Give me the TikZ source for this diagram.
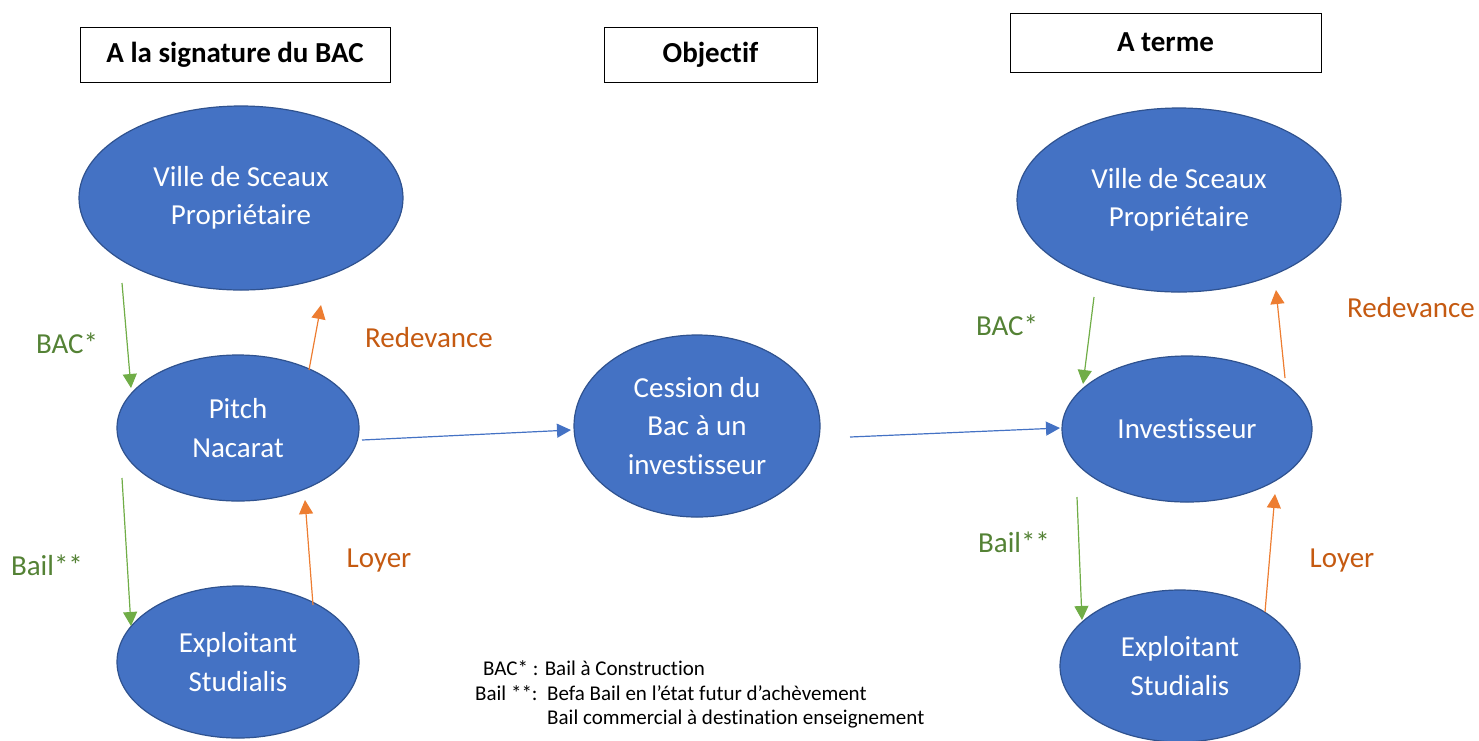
\documentclass[tikz,border=0pt]{standalone}
\usepackage{fontspec}
\setmainfont[Ligatures=NoCommon]{Carlito}
\usetikzlibrary{arrows.meta,shapes.geometric}
\definecolor{nodefill}{HTML}{4472C4}
\definecolor{nodeline}{HTML}{2F528F}
\definecolor{grn}{HTML}{70AD47}
\definecolor{grntext}{HTML}{548235}
\definecolor{org}{HTML}{ED7D31}
\definecolor{orgtext}{HTML}{C55A11}
\begin{document}
\begin{tikzpicture}[x=1pt,y=-1pt,
  ent/.style={ellipse,draw=nodeline,line width=1.2pt,fill=nodefill,text=white,
    font=\fontsize{29}{38.5}\selectfont,align=center,inner sep=0pt},
  title/.style={draw=black,line width=1pt,fill=white,font=\bfseries\fontsize{29}{32}\selectfont,inner sep=0pt},
  garrow/.style={draw=grn,line width=1.2pt,-{Triangle[length=14pt,width=14pt]}},
  oarrow/.style={draw=org,line width=1.2pt,-{Triangle[length=14pt,width=14pt]}},
  barrow/.style={draw=nodefill,line width=1.2pt,-{Triangle[length=14pt,width=14pt]}},
  glab/.style={text=grntext,font=\fontsize{29}{32}\selectfont},
  olab/.style={text=orgtext,font=\fontsize{29}{32}\selectfont},
  foot/.style={font=\fontsize{21}{25}\selectfont,anchor=west,inner sep=0pt}]
\useasboundingbox (0,0) rectangle (1479,740);

% titles
\node[title,minimum width=310pt,minimum height=55pt] (t1) at (235,54.5) {A la signature du BAC};
\node[title,minimum width=213pt,minimum height=55pt] (t2) at (710.5,54.5) {Objectif};
\node[title,minimum width=311pt,minimum height=59pt] (t3) at (1165.5,42.5) {A terme};

% ellipses
\node[ent,minimum width=324pt,minimum height=184pt] (v1) at (241,198) {Ville de Sceaux\\Propriétaire};
\node[ent,minimum width=242pt,minimum height=146pt] (p1) at (238,428) {Pitch\\Nacarat};
\node[ent,minimum width=242pt,minimum height=152pt] (e1) at (238,662) {Exploitant\\Studialis};
\node[ent,minimum width=246pt,minimum height=182pt] (c1) at (697,426) {Cession du\\Bac à un\\investisseur};
\node[ent,minimum width=324pt,minimum height=184pt] (v2) at (1179,200) {Ville de Sceaux\\Propriétaire};
\node[ent,minimum width=250pt,minimum height=146pt] (i2) at (1187,429) {Investisseur};
\node[ent,minimum width=240pt,minimum height=152pt] (e2) at (1180,666) {Exploitant\\Studialis};

% connector end coordinates
\coordinate (a1s) at (122,283); \coordinate (a1e) at (131,388);
\coordinate (a2s) at (309,370); \coordinate (a2e) at (321,305);
\coordinate (a3s) at (122,478); \coordinate (a3e) at (131,626);
\coordinate (a4s) at (313,605); \coordinate (a4e) at (305,500);
\coordinate (b1s) at (362,440); \coordinate (b1e) at (571,430);
\coordinate (b2s) at (850,437); \coordinate (b2e) at (1060,428);
\coordinate (r1s) at (1094,297); \coordinate (r1e) at (1083,384);
\coordinate (r2s) at (1285,378); \coordinate (r2e) at (1276,290);
\coordinate (r3s) at (1077,497); \coordinate (r3e) at (1082,620);
\coordinate (r4s) at (1265,612); \coordinate (r4e) at (1275,494);

\draw[garrow] (a1s) -- (a1e);
\draw[oarrow] (a2s) -- (a2e);
\draw[garrow] (a3s) -- (a3e);
\draw[oarrow] (a4s) -- (a4e);
\draw[barrow] (b1s) -- (b1e);
\draw[barrow] (b2s) -- (b2e);
\draw[garrow] (r1s) -- (r1e);
\draw[oarrow] (r2s) -- (r2e);
\draw[garrow] (r3s) -- (r3e);
\draw[oarrow] (r4s) -- (r4e);

% labels
\node[glab] (l1) at (67,343) {BAC*};
\node[olab] (l2) at (429,338) {Redevance};
\node[glab] (l3) at (47,565) {Bail**};
\node[olab] (l4) at (379,561) {Loyer};
\node[glab] (l5) at (1007,325) {BAC*};
\node[olab] (l6) at (1411,308) {Redevance};
\node[glab] (l7) at (1014,542) {Bail**};
\node[olab] (l8) at (1342,561) {Loyer};

% footnote
\node[foot] (f1) at (483,668) {BAC* : Bail à Construction};
\node[foot] (f2) at (475,693) {Bail **:};
\node[foot] (f3) at (547,693) {Befa Bail en l’état futur d’achèvement};
\node[foot] (f4) at (547,719) {Bail commercial à destination enseignement};
\end{tikzpicture}
\end{document}
